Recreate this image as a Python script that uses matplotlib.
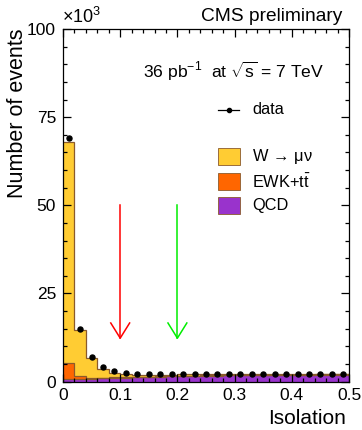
import numpy as np
import matplotlib.pyplot as plt
from matplotlib.ticker import MultipleLocator

plt.rcParams['font.family'] = ['Liberation Sans', 'DejaVu Sans']
plt.rcParams['mathtext.fontset'] = 'custom'
plt.rcParams['mathtext.rm'] = 'Liberation Sans'
plt.rcParams['mathtext.it'] = 'Liberation Sans'

# isolation bins, 0 .. 0.5 in steps of 0.02
bin_edges = np.linspace(0, 0.5, 26)

# counts in units of 10^3 events
qcd = [0.6, 0.7, 0.8, 0.9, 1.0, 1.1, 1.2, 1.3, 1.4, 1.5, 1.55, 1.6, 1.65,
       1.7, 1.75, 1.8, 1.8, 1.85, 1.85, 1.9, 1.9, 1.9, 1.95, 1.95, 1.95]
ewk = [4.7, 0.9, 0.3, 0.2, 0.15, 0.12, 0.1, 0.1, 0.08, 0.08, 0.08, 0.07, 0.07,
       0.07, 0.06, 0.06, 0.06, 0.06, 0.06, 0.06, 0.05, 0.05, 0.05, 0.05, 0.05]
wmunu = [62.7, 13.0, 5.5, 2.4, 1.25, 0.8, 0.6, 0.5, 0.42, 0.37, 0.37, 0.35, 0.35,
         0.33, 0.31, 0.3, 0.3, 0.28, 0.28, 0.26, 0.26, 0.25, 0.22, 0.2, 0.2]
data = [69.2, 15.0, 7.0, 4.0, 2.9, 2.3, 2.1, 2.1, 2.0, 2.0, 2.0, 2.05, 2.1,
        2.1, 2.15, 2.2, 2.2, 2.2, 2.25, 2.25, 2.25, 2.25, 2.25, 2.2, 2.2]

cut_values = [0.1, 0.2]
cut_colors = ['#ff0000', '#00ee00']

W, H = 362, 430
fig = plt.figure(figsize=(W / 100, H / 100), dpi=100)
ax = fig.add_axes([63 / W, 1 - 381.5 / H, (349 - 63) / W, (381.5 - 29) / H])

edge = '#8a5a2c'
c_qcd, c_ewk, c_w = '#9933cc', '#ff6600', '#ffcc33'

b0 = np.zeros(25)
b1 = b0 + np.array(qcd)
b2 = b1 + np.array(ewk)
b3 = b2 + np.array(wmunu)
ax.stairs(b3, bin_edges, baseline=b2, fill=True, color=c_w, lw=0)
ax.stairs(b2, bin_edges, baseline=b1, fill=True, color=c_ewk, lw=0)
ax.stairs(b1, bin_edges, baseline=b0, fill=True, color=c_qcd, lw=0)
for top in (b1, b2, b3):
    ax.stairs(top, bin_edges, baseline=None, color=edge, lw=0.9)

centers = 0.5 * (bin_edges[:-1] + bin_edges[1:])
ax.plot(centers, data, 'o', color='black', ms=3.6, zorder=5)

# cut arrows (open heads)
for xc, col in zip(cut_values, cut_colors):
    ax.plot([xc, xc], [50, 12.3], color=col, lw=1.1)
    ax.plot([xc - 0.0165, xc, xc + 0.0165], [16.6, 12.3, 16.6], color=col, lw=1.1)

ax.set_xlim(0, 0.5)
ax.set_ylim(0, 100)
ax.xaxis.set_major_locator(MultipleLocator(0.1))
ax.xaxis.set_minor_locator(MultipleLocator(0.02))
ax.yaxis.set_major_locator(MultipleLocator(25))
ax.yaxis.set_minor_locator(MultipleLocator(5))
ax.set_xticks([0, 0.1, 0.2, 0.3, 0.4, 0.5])
ax.set_xticklabels(['0', '0.1', '0.2', '0.3', '0.4', '0.5'])
ax.tick_params(which='both', direction='in', top=True, right=True, labelsize=12.5, width=0.9)
ax.tick_params(which='major', length=6, pad=5)
ax.tick_params(which='minor', length=3)
for s in ax.spines.values():
    s.set_linewidth(0.9)

fig.text(268 / W, 1 - 424 / H, 'Isolation', fontsize=15, ha='left', va='baseline')
fig.text(18 / W, 1 - 28 / H, 'Number of events', fontsize=15.5, rotation=90,
         ha='center', va='top')
fig.text(62 / W, 1 - 23 / H, r'$\times$10$^3$', fontsize=13, ha='left', va='baseline')
fig.text(342 / W, 1 - 21 / H, 'CMS preliminary', fontsize=13.8, ha='right', va='baseline')
fig.text(143 / W, 1 - 78 / H, r'36 pb$^{-1}$  at $\sqrt{\rm s}$ = 7 TeV', fontsize=12.6,
         ha='left', va='baseline')

# legend
fig.add_artist(plt.Line2D([218 / W, 239 / W], [1 - 110 / H, 1 - 110 / H], color='black', lw=0.9))
fig.add_artist(plt.Line2D([228.5 / W], [1 - 110 / H], marker='o', ms=3, color='black'))
fig.text(252 / W, 1 - 110 / H, 'data', fontsize=11.8, va='center', ha='left')
leg_items = [(c_w, r'W$\,\rightarrow\,\mu\nu$', 148),
             (c_ewk, r'EWK+t$\bar{\rm t}$', 173),
             (c_qcd, 'QCD', 197)]
for col, lab, ytop in leg_items:
    fig.add_artist(plt.Rectangle((218 / W, 1 - (ytop + 17) / H), 22 / W, 17 / H,
                                 facecolor=col, edgecolor=edge, lw=0.6))
    fig.text(252 / W, 1 - (ytop + 8.5) / H, lab, fontsize=11.8, va='center', ha='left')

fig.savefig('out.png', dpi=100)
